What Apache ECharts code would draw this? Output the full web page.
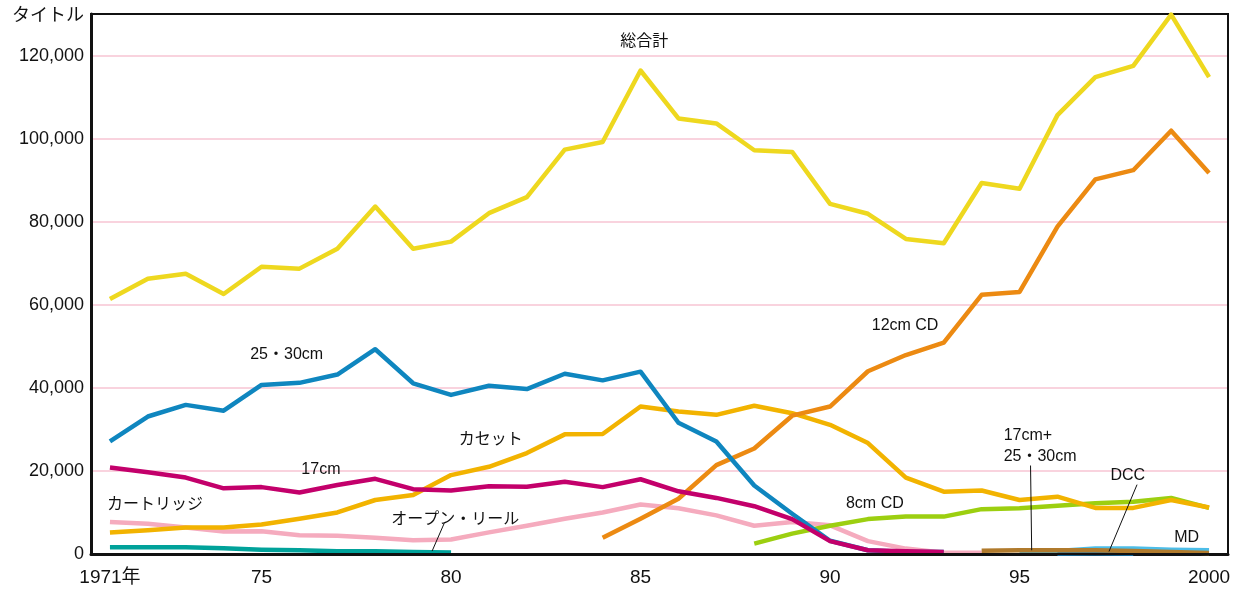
<!DOCTYPE html>
<html>
<head>
<meta charset="utf-8">
<script src="https://cdn.jsdelivr.net/npm/echarts@6.0.0/dist/echarts.min.js"></script>
<style>
  html, body { margin: 0; padding: 0; background: #fff; }
  #chart { width: 1243px; height: 591px; }
</style>
</head>
<body>
<div id="chart"></div>
<script>
// 年（1971〜2000）
const years = []
for (let y = 1971; y <= 2000; y++) years.push(String(y))

const yTicks = [0, 20000, 40000, 60000, 80000, 100000, 120000]

// 各系列（null = データなし）
const total = [61400, 66250, 67460, 62600, 69150, 68700, 73500, 83650, 73500, 75200,
  82050, 85900, 97350, 99200, 116400, 104850, 103650, 97200, 96800, 84300,
  81900, 75850, 74800, 89300, 87950, 105650, 114800, 117500, 129850, 114800]
const lp2530 = [27100, 33100, 35900, 34500, 40700, 41200, 43200, 49300, 41100, 38300,
  40500, 39700, 43400, 41800, 43900, 31600, 27100, 16500, 9700, 3200,
  900, 500, 500, null, null, null, null, null, null, null]
const ep17 = [20800, 19700, 18400, 15800, 16100, 14800, 16600, 18100, 15600, 15300,
  16300, 16200, 17400, 16100, 18000, 15100, 13500, 11500, 8400, 3100,
  900, 650, 500, null, null, null, null, null, null, null]
const cassette = [5200, 5700, 6400, 6400, 7100, 8500, 10000, 13000, 14200, 19000,
  21000, 24300, 28800, 28900, 35500, 34300, 33500, 35700, 33900, 31100,
  26700, 18400, 15000, 15300, 13000, 13800, 11100, 11100, 13000, 11200]
const cartridge = [7700, 7300, 6400, 5400, 5500, 4500, 4400, 3900, 3300, 3500,
  5200, 6800, 8500, 10000, 11900, 11000, 9300, 6800, 7700, 6900,
  3100, 1300, 300, 300, null, null, null, null, null, null]
const openReel = [1600, 1650, 1650, 1400, 1050, 900, 650, 650, 500, 350,
  null, null, null, null, null, null, null, null, null, null,
  null, null, null, null, null, null, null, null, null, null]
const cd12 = [null, null, null, null, null, null, null, null, null, null,
  null, null, null, 3900, 8500, 13300, 21400, 25400, 33300, 35500,
  44000, 47900, 50900, 62400, 63100, 78800, 90200, 92400, 101900, 91700]
const cd8 = [null, null, null, null, null, null, null, null, null, null,
  null, null, null, null, null, null, null, 2500, 4900, 6800,
  8400, 9000, 9000, 10800, 11000, 11600, 12200, 12600, 13500, 11100]
const md = [null, null, null, null, null, null, null, null, null, null,
  null, null, null, null, null, null, null, null, null, null,
  null, null, null, null, 300, 700, 1300, 1300, 1000, 900]
const dcc = [null, null, null, null, null, null, null, null, null, null,
  null, null, null, null, null, null, null, null, null, null,
  null, null, null, null, null, 100, 200, 100, null, null]
const epLp = [null, null, null, null, null, null, null, null, null, null,
  null, null, null, null, null, null, null, null, null, null,
  null, null, null, 800, 900, 900, 900, 700, 500, 250]

const FONT = "'Liberation Sans', 'Noto Sans CJK JP', sans-serif"

function line(name, data, color) {
  return {
    name: name,
    type: 'line',
    data: data,
    symbol: 'none',
    connectNulls: false,
    lineStyle: { color: color, width: 4.5, join: 'round' },
    itemStyle: { color: color },
    z: 3
  }
}

const chart = echarts.init(document.getElementById('chart'))

chart.setOption({
  animation: false,
  backgroundColor: '#fff',
  grid: {
    left: 91, right: 15, top: 14, bottom: 37,
    show: true, borderColor: '#111', borderWidth: 2,
    outerBoundsMode: 'none'
  },
  xAxis: [{
    type: 'category',
    data: years,
    boundaryGap: true,
    axisLine: { lineStyle: { color: '#111', width: 3 } },
    axisTick: { show: false },
    axisLabel: {
      interval: (i, v) => i === 0 || Number(v) % 5 === 0,
      formatter: v => v === '1971' ? '1971年' : (v === '2000' ? '2000' : v.slice(2)),
      color: '#111', fontSize: 19, fontFamily: FONT, margin: 14
    },
    splitLine: { show: false }
  }, {
    // 上枠線
    type: 'category',
    data: years,
    position: 'top',
    z: 5,
    axisLine: { show: true, lineStyle: { color: '#111', width: 2 } },
    axisTick: { show: false },
    axisLabel: { show: false },
    splitLine: { show: false }
  }],
  yAxis: [{
    type: 'value',
    min: 0, max: 130000, interval: 20000,
    axisLine: { show: true, lineStyle: { color: '#111', width: 3 } },
    axisTick: { show: false },
    axisLabel: {
      color: '#111', fontSize: 18, fontFamily: FONT, margin: 7,
      formatter: v => yTicks.includes(v) ? v.toLocaleString('en-US') : ''
    },
    splitLine: { showMaxLine: false, lineStyle: { color: '#f9d3de', width: 2 } }
  }, {
    // 右枠線
    type: 'value',
    min: 0, max: 130000,
    position: 'right',
    axisLine: { show: true, lineStyle: { color: '#111', width: 2 } },
    axisTick: { show: false },
    axisLabel: { show: false },
    splitLine: { show: false }
  }],
  series: [
    line('カートリッジ', cartridge, '#f5abbe'),
    line('オープン・リール', openReel, '#00a29a'),
    line('8cm CD', cd8, '#9ccf10'),
    line('カセット', cassette, '#f2b300'),
    line('12cm CD', cd12, '#ec8a12'),
    line('25・30cm', lp2530, '#0f86bf'),
    line('17cm', ep17, '#c3006b'),
    line('MD', md, '#4cbde8'),
    line('DCC', dcc, '#1480c4'),
    line('17cm+25・30cm', epLp, '#b07a2c'),
    line('総合計', total, '#eed81f')
  ]
})

// カテゴリ番号と値 → ピクセル（注記用）
const p0 = chart.convertToPixel({ gridIndex: 0 }, [0, 0])
const p1 = chart.convertToPixel({ gridIndex: 0 }, [1, 20000])
function px(i, v) {
  return [p0[0] + (p1[0] - p0[0]) * i, p0[1] + (p1[1] - p0[1]) * v / 20000]
}

function label(text, i, v, align) {
  const p = px(i, v)
  return {
    type: 'text', x: p[0], y: p[1], z: 10,
    style: {
      text: text, fill: '#111', font: '16px ' + FONT,
      align: align || 'left', verticalAlign: 'middle', lineHeight: 21
    }
  }
}

function leader(i1, v1, i2, v2) {
  const a = px(i1, v1), b = px(i2, v2)
  return {
    type: 'line', z: 10,
    shape: { x1: a[0], y1: a[1], x2: b[0], y2: b[1] },
    style: { stroke: '#111', lineWidth: 1 }
  }
}

chart.setOption({
  graphic: [
    {
      type: 'text', x: 84, y: 7, z: 10,
      style: { text: 'タイトル', fill: '#111', font: '18px ' + FONT, align: 'right', verticalAlign: 'top' }
    },
    label('総合計', 14.1, 123300, 'center'),
    label('25・30cm', 3.7, 47900),
    label('12cm CD', 20.1, 55100),
    label('カセット', 9.2, 27600),
    label('17cm', 5.05, 20300),
    label('カートリッジ', -0.08, 11850),
    label('オープン・リール', 7.42, 8200),
    label('8cm CD', 19.42, 12100),
    label('17cm+\n25・30cm', 23.58, 26000),
    label('DCC', 26.4, 18900),
    label('MD', 28.08, 3870),
    leader(8.82, 7400, 8.5, 700),
    leader(24.29, 21300, 24.32, 900),
    leader(27.1, 16700, 26.36, 600)
  ]
})
</script>
</body>
</html>
